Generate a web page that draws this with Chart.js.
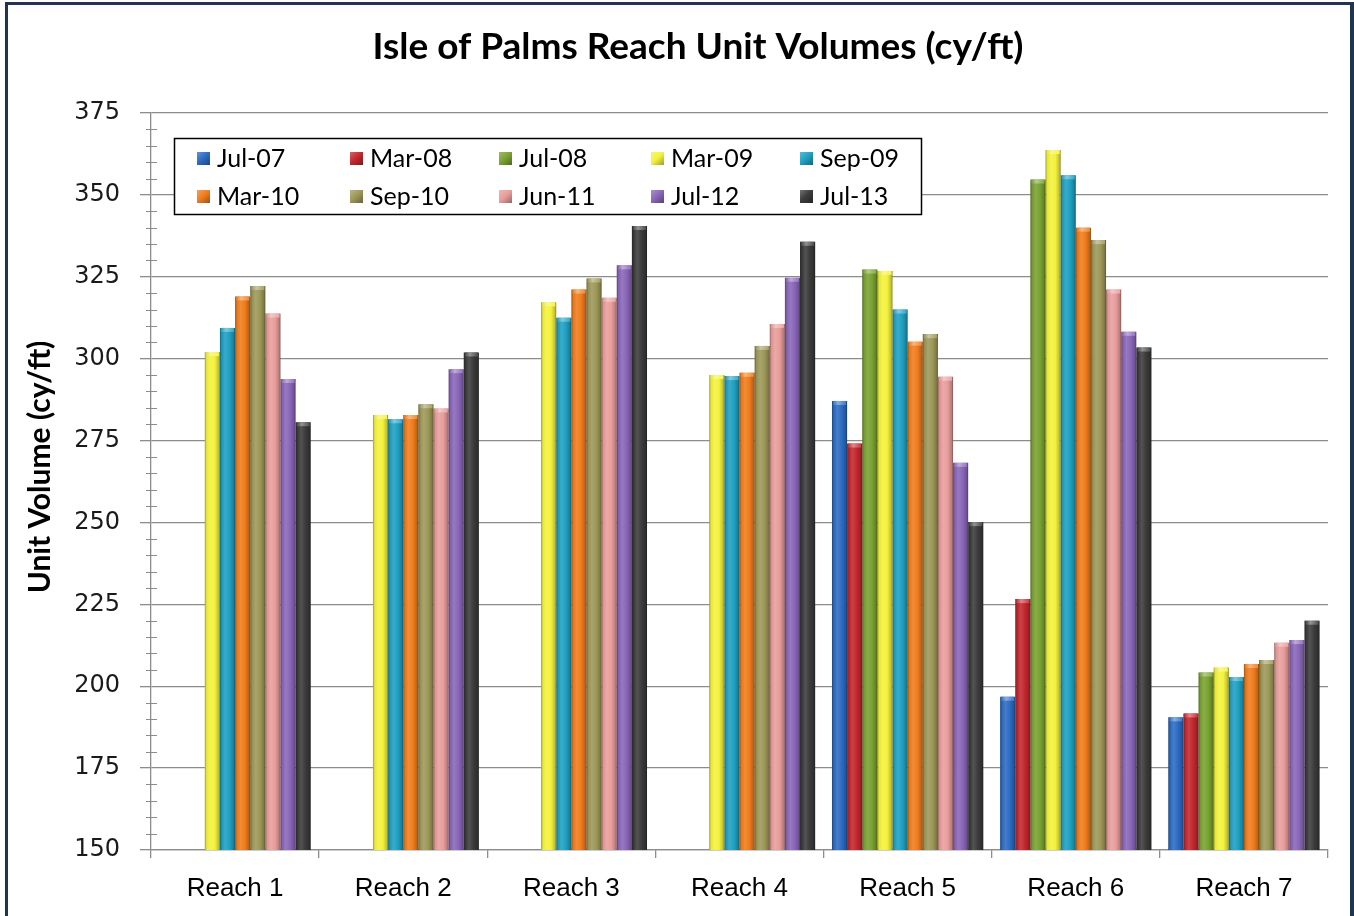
<!DOCTYPE html>
<html><head><meta charset="utf-8">
<script src="https://cdn.jsdelivr.net/npm/chart.js@4.4.1/dist/chart.umd.min.js"></script>
<style>
html,body{margin:0;padding:0;background:#fff;}
#wrap{position:relative;width:1354px;height:916px;overflow:hidden;background:#fff;}
canvas{position:absolute;left:0;top:0;}
#frame{position:absolute;left:5px;top:2px;right:0;bottom:-20px;border:3px solid #1f3552;border-right-width:4px;pointer-events:none;}
</style></head>
<body><div id="wrap"><canvas id="c" width="1354" height="916"></canvas><div id="frame"></div></div>
<script>
// ---- data ----
const categories = ['Reach 1','Reach 2','Reach 3','Reach 4','Reach 5','Reach 6','Reach 7'];
const seriesLabels = ['Jul-07','Mar-08','Jul-08','Mar-09','Sep-09','Mar-10','Sep-10','Jun-11','Jul-12','Jul-13'];
const jul07 = [null, null, null, null, 287.1, 196.8, 190.5];
const mar08 = [null, null, null, null, 274.1, 226.6, 191.7];
const jul08 = [null, null, null, null, 327.2, 354.7, 204.2];
const mar09 = [302.0, 282.8, 317.2, 295.0, 326.8, 363.7, 205.7];
const sep09 = [309.4, 281.5, 312.5, 294.7, 315.0, 356.0, 202.8];
const mar10 = [319.0, 282.8, 321.1, 295.7, 305.2, 340.0, 206.8];
const sep10 = [322.2, 286.1, 324.5, 303.9, 307.5, 336.2, 208.0];
const jun11 = [313.8, 284.8, 318.6, 310.6, 294.5, 321.1, 213.3];
const jul12 = [293.8, 296.8, 328.5, 324.7, 268.2, 308.2, 214.1];
const jul13 = [280.6, 301.9, 340.5, 335.7, 250.1, 303.4, 220.0];
const seriesValues = [jul07, mar08, jul08, mar09, sep09, mar10, sep10, jun11, jul12, jul13];
const yTicks = [150,175,200,225,250,275,300,325,350,375];

const colors = ['#2c6bc2','#c2272d','#79a231','#f4f23c','#1f9fc1','#f07c1c','#9d9858','#e89d9b','#8966b8','#3b3b3b'];

function shade(hex, f){
  const n = parseInt(hex.slice(1),16);
  let r=(n>>16)&255, g=(n>>8)&255, b=n&255;
  if (f<0){ r=r*(1+f); g=g*(1+f); b=b*(1+f); }
  else { r=r+(255-r)*f; g=g+(255-g)*f; b=b+(255-b)*f; }
  return 'rgb('+Math.round(r)+','+Math.round(g)+','+Math.round(b)+')';
}
function barGrad(ctx, x0, x1, c){
  const g = ctx.createLinearGradient(x0,0,x1,0);
  g.addColorStop(0, shade(c,-0.35));
  g.addColorStop(0.12, shade(c,-0.05));
  g.addColorStop(0.35, shade(c,0.12));
  g.addColorStop(0.65, c);
  g.addColorStop(0.9, shade(c,-0.2));
  g.addColorStop(1, shade(c,-0.45));
  return g;
}

const decor = {
  id:'decor',
  beforeDatasetDraw(chart, args){
    const ctx = chart.ctx; const c = colors[args.index];
    const raw = chart.data.datasets[args.index].data;
    args.meta.data.forEach((el, j)=>{
      if (raw[j] == null) return;
      const w = el.width, x = el.x;
      el.options = Object.assign({}, el.options, {backgroundColor: barGrad(ctx, x-w/2, x+w/2, c)});
    });
  },
  afterDatasetDraw(chart, args){
    const ctx = chart.ctx; const c = colors[args.index];
    const raw = chart.data.datasets[args.index].data;
    ctx.save();
    args.meta.data.forEach((el, j)=>{
      if (raw[j] == null) return;
      const w = el.width, x = el.x, y = el.y;
      const g = ctx.createLinearGradient(x-w/2,0,x+w/2,0);
      g.addColorStop(0, shade(c,-0.1)); g.addColorStop(0.4, shade(c,0.45)); g.addColorStop(1, shade(c,0.05));
      ctx.fillStyle = g;
      ctx.fillRect(x-w/2+1, y, w-2, 4);
    });
    ctx.restore();
  },
  afterDraw(chart){
    const ctx = chart.ctx;
    const ya = chart.scales.y;
    ctx.save();
    // minor ticks
    ctx.strokeStyle = '#8c8c8c'; ctx.lineWidth = 1;
    for (let v = ya.min; v <= ya.max; v += 5){
      if (v % 25 === 0) continue;
      const py = Math.round(ya.getPixelForValue(v)) + 0.5;
      ctx.beginPath(); ctx.moveTo(146, py); ctx.lineTo(157, py); ctx.stroke();
    }
    // title
    ctx.fillStyle = '#000';
    ctx.font = 'bold 37px Lato';
    ctx.textAlign = 'center'; ctx.textBaseline = 'middle';
    ctx.fillText('Isle of Palms Reach Unit Volumes (cy/ft)', 698, 47);
    // y axis title
    ctx.save();
    ctx.translate(40, 467); ctx.rotate(-Math.PI/2);
    ctx.font = 'bold 30px Lato';
    ctx.fillText('Unit Volume (cy/ft)', 0, 0);
    ctx.restore();
    // legend
    ctx.fillStyle = '#fff';
    ctx.fillRect(174, 138, 748, 77);
    ctx.strokeStyle = '#000'; ctx.lineWidth = 1.5;
    ctx.strokeRect(174.5, 138.5, 747, 76);
    const colX = [197, 350, 499, 651, 800];
    const rowY = [158, 196];
    ctx.font = '25px Lato'; ctx.textAlign = 'left'; ctx.textBaseline = 'middle';
    chart.data.datasets.forEach((ds, i)=>{
      const cx = colX[i % 5], cy = rowY[Math.floor(i / 5)];
      const g = ctx.createLinearGradient(cx, cy-7, cx+13, cy+7);
      g.addColorStop(0, shade(colors[i],0.3)); g.addColorStop(0.5, colors[i]); g.addColorStop(1, shade(colors[i],-0.35));
      ctx.fillStyle = g;
      ctx.fillRect(cx, cy-6, 13, 13);
      ctx.fillStyle = '#000';
      ctx.fillText(ds.label, cx + 20, cy + 1);
    });
    ctx.restore();
  }
};

const datasets = seriesLabels.map((lab, i)=>({
  label: lab,
  data: seriesValues[i],
  backgroundColor: colors[i],
  borderWidth: 0,
  categoryPercentage: 0.9,
  barPercentage: 1.0
}));

new Chart(document.getElementById('c'), {
  type: 'bar',
  data: { labels: categories, datasets },
  plugins: [decor],
  options: {
    responsive: false,
    animation: false,
    devicePixelRatio: 1,
    layout: { padding: { top: 113, right: 26, left: 0, bottom: 0 } },
    plugins: { legend: { display: false }, title: { display: false }, tooltip: { enabled: false } },
    scales: {
      x: {
        afterFit(s){ s.height = 66; },
        grid: { display: true, drawOnChartArea: false, drawTicks: true, tickLength: 8, offset: true, color: '#8c8c8c', lineWidth: 1.3 },
        border: { color: '#8c8c8c', width: 1.3 },
        ticks: { color: '#000', font: { family: 'Liberation Sans', size: 26 }, padding: 15, maxRotation: 0 }
      },
      y: {
        min: 150, max: 375,
        afterFit(s){ s.width = 151; },
        afterBuildTicks(s){ s.ticks = yTicks.map(v=>({value:v})); },
        grid: { color: '#8c8c8c', lineWidth: 1.3, tickLength: 11 },
        border: { color: '#8c8c8c', width: 1.3 },
        ticks: { color: '#1a1a1a', font: { family: 'DejaVu Sans', size: 24 }, padding: 20 },
        title: { display: false }
      }
    }
  }
});
</script>
</body></html>
